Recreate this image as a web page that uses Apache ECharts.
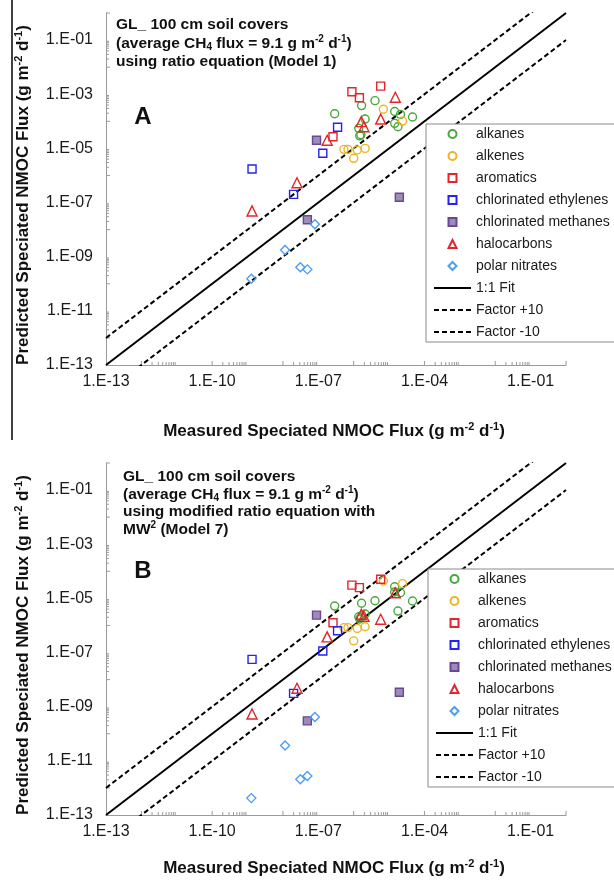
<!DOCTYPE html>
<html><head><meta charset="utf-8">
<script src="https://cdn.jsdelivr.net/npm/echarts@6/dist/echarts.min.js"></script>
<style>html,body{margin:0;padding:0;background:#fff}#chart{width:614px;height:881px}</style>
</head><body><div id="chart"></div>
<script>
// ---------------- DATA ----------------
const categories = ['alkanes','alkenes','aromatics','chlorinated ethylenes','chlorinated methanes','halocarbons','polar nitrates'];

const alkanesMeasured = [2.9e-7, 1.67e-6, 4.0e-6, 2.1e-6, 1.44e-5, 2.1e-5, 4.6e-5, 1.44e-5, 1.78e-5, 1.39e-6, 1.48e-6, 1.6e-6];
const alkanesModel1   = [1.9e-4, 3.8e-4, 5.8e-4, 1.21e-4, 2.3e-4, 1.8e-4, 1.44e-4, 8.4e-5, 6.3e-5, 5.5e-5, 2.9e-5, 3.2e-5];
const alkanesModel7   = [5.2e-6, 6.6e-6, 8.2e-6, 2.65e-6, 2.7e-5, 1.62e-5, 8.0e-6, 1.72e-5, 3.4e-6, 2.1e-6, 1.73e-6, 2.0e-6];

const alkenesMeasured = [6.9e-6, 2.4e-5, 5.3e-7, 6.9e-7, 1.26e-6, 2.1e-6, 1.0e-6];
const alkenesModel1   = [2.8e-4, 1.02e-4, 9.2e-6, 9.2e-6, 8.7e-6, 1.0e-5, 4.3e-6];
const alkenesModel7   = [4.4e-5, 3.5e-5, 8.3e-7, 8.3e-7, 7.8e-7, 9.0e-7, 2.7e-7];

const aromaticsMeasured = [8.9e-7, 1.45e-6, 5.8e-6, 2.6e-7];
const aromaticsModel1   = [1.23e-3, 7.4e-4, 2.0e-3, 2.7e-5];
const aromaticsModel7   = [3.1e-5, 2.5e-5, 5.1e-5, 1.26e-6];

const chlorEthylenesMeasured = [3.5e-7, 1.34e-7, 1.34e-9, 2.0e-8];
const chlorEthylenesModel1   = [6.0e-5, 6.6e-6, 1.73e-6, 2.0e-7];
const chlorEthylenesModel7   = [6.4e-7, 1.14e-7, 5.6e-8, 3.1e-9];

const chlorMethanesMeasured = [8.9e-8, 1.95e-5, 4.9e-8];
const chlorMethanesModel1   = [2.0e-5, 1.56e-7, 2.3e-8];
const chlorMethanesModel7   = [2.4e-6, 3.4e-9, 3.0e-10];

const halocarbonsMeasured = [1.5e-5, 1.64e-6, 1.95e-6, 5.8e-6, 1.78e-7, 2.5e-8, 1.34e-9];
const halocarbonsModel1   = [7.7e-4, 9.7e-5, 6.3e-5, 1.21e-4, 2.0e-5, 5.4e-7, 4.9e-8];
const halocarbonsModel7   = [1.62e-5, 2.6e-6, 2.2e-6, 1.69e-6, 3.8e-7, 4.8e-9, 5.4e-10];

const polarNitratesMeasured = [8.0e-8, 1.15e-8, 3.1e-8, 4.9e-8, 1.28e-9];
const polarNitratesModel1   = [1.57e-8, 1.77e-9, 4.1e-10, 3.4e-10, 1.54e-10];
const polarNitratesModel7   = [4.2e-10, 3.7e-11, 2.1e-12, 2.75e-12, 4.2e-13];

const fitNames = ['1:1 Fit', 'Factor +10', 'Factor -10'];
const fitFactors = [1, 10, 0.1];

const xTickLabels = ['1.E-13', '1.E-10', '1.E-07', '1.E-04', '1.E-01'];
const yTickLabels = ['1.E-13', '1.E-11', '1.E-09', '1.E-07', '1.E-05', '1.E-03', '1.E-01'];
const axisMinValue = 1e-13, axisMaxValue = 1;

// ---------------- BUILD ----------------
const FONT = 'Liberation Sans, Arial, sans-serif';
const measured = [alkanesMeasured, alkenesMeasured, aromaticsMeasured, chlorEthylenesMeasured, chlorMethanesMeasured, halocarbonsMeasured, polarNitratesMeasured];
const model1 = [alkanesModel1, alkenesModel1, aromaticsModel1, chlorEthylenesModel1, chlorMethanesModel1, halocarbonsModel1, polarNitratesModel1];
const model7 = [alkanesModel7, alkenesModel7, aromaticsModel7, chlorEthylenesModel7, chlorMethanesModel7, halocarbonsModel7, polarNitratesModel7];

const clear = 'rgba(255,255,255,0)';
const catStyle = [
  {symbol:'circle', size:8, border:'#46a83c', fill:clear, icon:null},
  {symbol:'circle', size:8, border:'#f0b323', fill:clear, icon:null},
  {symbol:'rect', size:8, border:'#e2262b', fill:clear, icon:'path://M0,0L10,0L10,10L0,10Z'},
  {symbol:'rect', size:8, border:'#2323f2', fill:clear, icon:'path://M0,0L10,0L10,10L0,10Z'},
  {symbol:'rect', size:8, border:'#6a4698', fill:'#9b8db8', icon:'path://M0,0L10,0L10,10L0,10Z'},
  {symbol:'triangle', size:10, border:'#e2262b', fill:clear, icon:'path://M5,0L10,10L0,10Z'},
  {symbol:'diamond', size:9, border:'#4d9df0', fill:clear, icon:'path://M5,0L10,5L5,10L0,5Z'}
];
const fitStyle = [
  {type:'solid', width:2},
  {type:[5,3], width:2},
  {type:[5,3], width:2}
];

const L = Math.log10;
const minE = Math.round(L(axisMinValue)), maxE = Math.round(L(axisMaxValue));
const labelExp = s => parseFloat(s.replace('1.E', ''));
function fmt(labels) {
  return v => { const l = labels.find(s => Math.abs(labelExp(s) - v) < 1e-6); return l || ''; };
}

function makeAxes(gi) {
  const common = {
    type:'value', gridIndex:gi, min:minE, max:maxE, interval:1,
    axisLine:{onZero:false, lineStyle:{color:'#9a9a9a', width:1}},
    axisTick:{show:false}, splitLine:{show:false}
  };
  return {
    x: Object.assign({}, common, {axisLabel:{formatter:fmt(xTickLabels), fontSize:16, color:'#1a1a1a', fontFamily:FONT, margin:9, showMinLabel:true, showMaxLabel:true}}),
    y: Object.assign({}, common, {axisLabel:{formatter:fmt(yTickLabels), fontSize:16, color:'#1a1a1a', fontFamily:FONT, margin:13, showMinLabel:true, showMaxLabel:true}})
  };
}

// log-style tick marks (major at even exponents, minor at 2..9 x 10^even)
const tickData = [];
for (let e = minE; e <= maxE; e++) {
  if (e % 2 === 0) {
    tickData.push([0, e, 1]); tickData.push([1, e, 1]);
    for (let m = 2; m <= 9; m++) {
      const v = e + L(m);
      if (v < maxE) { tickData.push([0, v, 0]); tickData.push([1, v, 0]); }
    }
  }
}
function renderTick(params, api) {
  const which = api.value(0), v = api.value(1), major = api.value(2);
  const len = major ? 4 : 3;
  const st = {stroke:'#9a9a9a', lineWidth:1};
  if (which === 0) {
    const p = api.coord([v, minE]);
    return {type:'line', shape:{x1:p[0], y1:p[1], x2:p[0], y2:p[1]-len}, style:st};
  }
  const p = api.coord([minE, v]);
  return {type:'line', shape:{x1:p[0], y1:p[1], x2:p[0]+len, y2:p[1]}, style:st};
}

const series = [];
const xAxes = [], yAxes = [];
[model1, model7].forEach((model, gi) => {
  const ax = makeAxes(gi); xAxes.push(ax.x); yAxes.push(ax.y);
  categories.forEach((name, ci) => {
    const s = catStyle[ci];
    series.push({
      type:'scatter', name, xAxisIndex:gi, yAxisIndex:gi,
      symbol:s.symbol, symbolSize:s.size,
      itemStyle:{color:s.fill, borderColor:s.border, borderWidth:1.4, opacity:1},
      data: measured[ci].map((x, i) => [L(x), L(model[ci][i])]),
      z:5
    });
  });
  fitNames.forEach((name, fi) => {
    const lf = L(fitFactors[fi]);
    series.push({
      type:'line', name, xAxisIndex:gi, yAxisIndex:gi, symbol:'none', clip:true,
      itemStyle:{color:'rgba(0,0,0,0)', borderWidth:0},
      lineStyle:{color:'#000', width:fitStyle[fi].width, type:fitStyle[fi].type},
      data:[[minE, minE + lf], [maxE, maxE + lf]], z:3
    });
  });
  series.push({type:'custom', xAxisIndex:gi, yAxisIndex:gi, renderItem:renderTick, data:tickData, silent:true, z:2});
});

const legendData = categories.map((name, ci) => catStyle[ci].icon ? {name, icon:catStyle[ci].icon} : {name})
  .concat(fitNames.map(name => ({name, itemStyle:{color:'rgba(0,0,0,0)', borderColor:'rgba(0,0,0,0)', borderWidth:0}})));
function legend(left, top) {
  return {
    orient:'vertical', left, top, data:legendData, selectedMode:false,
    itemWidth:37, itemHeight:8, itemGap:8, symbolKeepAspect:true,
    padding:[3, 10, 3, 7],
    backgroundColor:'#fff', borderColor:'#8a8a8a', borderWidth:1, borderRadius:0,
    textStyle:{fontSize:14, color:'#1a1a1a', fontFamily:FONT, lineHeight:14}
  };
}

const supSub = {
  sup:{fontSize:10, fontWeight:'bold', fontFamily:FONT, verticalAlign:'top', lineHeight:11, fill:'#111'},
  sub:{fontSize:10, fontWeight:'bold', fontFamily:FONT, verticalAlign:'bottom', lineHeight:10, fill:'#111'}
};
const supSubT = {
  sup:{fontSize:11, fontWeight:'bold', fontFamily:FONT, verticalAlign:'top', lineHeight:12, fill:'#111'}
};
function blockText(x, y, text, lh) {
  return {type:'text', x, y, silent:true, style:{text, fontSize:15.5, fontWeight:'bold', fontFamily:FONT, fill:'#111', lineHeight:lh, rich:supSub}};
}
function letter(x, y, t) {
  return {type:'text', x, y, silent:true, style:{text:t, fontSize:24, fontWeight:'bold', fontFamily:FONT, fill:'#111', align:'center', verticalAlign:'middle'}};
}
function axisTitle(x, y, text, rot) {
  return {type:'text', x, y, rotation:rot, silent:true, style:{text, fontSize:17, fontWeight:'bold', fontFamily:FONT, fill:'#111', align:'center', verticalAlign:'middle', lineHeight:20, rich:supSubT}};
}
const yTitle = 'Predicted Speciated NMOC Flux (g m{sup|-2} d{sup|-1})';
const xTitle = 'Measured Speciated NMOC Flux (g m{sup|-2} d{sup|-1})';

const graphics = [
  {type:'line', shape:{x1:12, y1:0, x2:12, y2:440}, style:{stroke:'#000', lineWidth:1.5}, silent:true},
  blockText(116, 16, 'GL_ 100 cm soil covers\n(average CH{sub|4} flux = 9.1 g m{sup|-2} d{sup|-1})\nusing ratio equation (Model 1)', 18.3),
  blockText(123, 468, 'GL_ 100 cm soil covers\n(average CH{sub|4} flux = 9.1 g m{sup|-2} d{sup|-1})\nusing modified ratio equation with\nMW{sup|2} (Model 7)', 17.5),
  letter(143, 117, 'A'),
  letter(143, 571, 'B'),
  axisTitle(23, 195, yTitle, Math.PI/2),
  axisTitle(23, 645, yTitle, Math.PI/2),
  axisTitle(334, 431, xTitle, 0),
  axisTitle(334, 868, xTitle, 0)
];

const chart = echarts.init(document.getElementById('chart'), null, {renderer:'canvas'});
chart.setOption({
  animation:false,
  backgroundColor:'#fff',
  grid:[
    {left:106, top:13, width:460, height:352},
    {left:106, top:463, width:460, height:352}
  ],
  xAxis:xAxes, yAxis:yAxes,
  legend:[legend(426, 124), legend(428, 569)],
  series,
  graphic:graphics
});
</script></body></html>
